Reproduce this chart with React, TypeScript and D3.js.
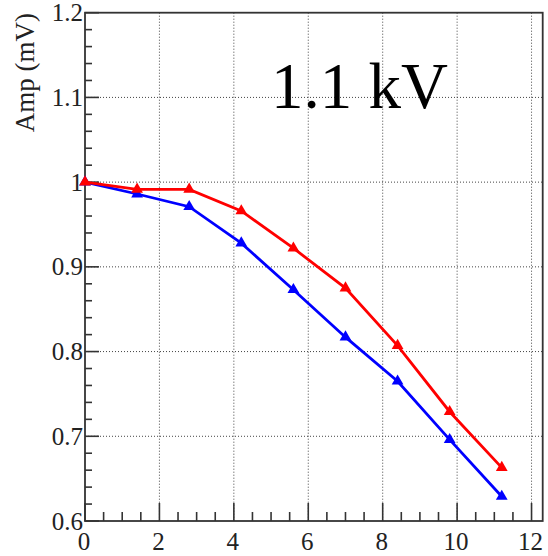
import React, { useEffect, useRef } from 'react'
import * as d3 from 'd3'

const distance = [0, 1.4, 2.8, 4.2, 5.6, 7.0, 8.4, 9.8, 11.2]
const redAmp = [1.0, 0.9915, 0.9915, 0.966, 0.922, 0.875, 0.807, 0.729, 0.663]
const blueAmp = [1.0, 0.986, 0.971, 0.928, 0.873, 0.817, 0.765, 0.696, 0.629]
const xTicks = [0, 2, 4, 6, 8, 10, 12]
const yTicks = [0.6, 0.7, 0.8, 0.9, 1, 1.1, 1.2]
const titleText = '1.1 kV'
const yTitle = 'Amp (mV)'

const W = 548
const H = 556
const FONT = 'Liberation Serif'

export default function App() {
  const ref = useRef<SVGSVGElement>(null)

  useEffect(() => {
    const svg = d3.select(ref.current)
    svg.selectAll('*').remove()

    const left = 85, right = 542.7, top = 12.7, bottom = 521
    const x = d3.scaleLinear().domain([0, 12.3]).range([left, right])
    const y = d3.scaleLinear().domain([0.6, 1.2]).range([bottom, top])

    svg.append('rect').attr('width', W).attr('height', H).attr('fill', '#fff')

    // grid
    const grid = svg.append('g')
      .attr('stroke', '#444').attr('stroke-width', 1).attr('stroke-dasharray', '1,2')
    xTicks.filter(t => t > 0).forEach(t => {
      grid.append('line').attr('x1', x(t)).attr('x2', x(t)).attr('y1', top).attr('y2', bottom)
    })
    yTicks.filter(t => t > 0.6 && t < 1.2).forEach(t => {
      grid.append('line').attr('x1', left).attr('x2', right).attr('y1', y(t)).attr('y2', y(t))
    })

    // ticks
    const ax = svg.append('g').attr('stroke', '#333').attr('stroke-width', 1.6)
    d3.range(0, 12.01, 0.5).forEach(t => {
      const major = Math.abs(t - Math.round(t / 2) * 2) < 1e-6
      ax.append('line').attr('x1', x(t)).attr('x2', x(t))
        .attr('y1', bottom).attr('y2', bottom - (major ? 18 : 9))
    })
    d3.range(0.6, 1.2001, 0.02).forEach(t => {
      const major = Math.abs(t * 10 - Math.round(t * 10)) < 1e-6
      ax.append('line').attr('x1', left).attr('x2', left + (major ? 14 : 7))
        .attr('y1', y(t)).attr('y2', y(t))
    })

    // frame
    svg.append('rect')
      .attr('x', left).attr('y', top).attr('width', right - left).attr('height', bottom - top)
      .attr('fill', 'none').attr('stroke', '#333').attr('stroke-width', 1.8)

    // tick labels
    svg.append('g').selectAll('text').data(xTicks).enter().append('text')
      .attr('x', d => x(d) - 1).attr('y', 550)
      .attr('text-anchor', 'middle')
      .style('font-family', FONT).style('font-size', '25px').attr('fill', '#222')
      .text(d => d)
    svg.append('g').selectAll('text').data(yTicks).enter().append('text')
      .attr('x', 83).attr('y', d => y(d) + 8.5)
      .attr('text-anchor', 'end')
      .style('font-family', FONT).style('font-size', '25px').attr('fill', '#222')
      .text(d => d3.format('~g')(d))

    // axis title
    svg.append('text')
      .attr('transform', 'translate(33.5,13) rotate(-90)')
      .attr('text-anchor', 'end')
      .style('font-family', FONT).style('font-size', '27px').attr('fill', '#222')
      .text(yTitle)

    // big label
    svg.append('text')
      .attr('x', 271).attr('y', 108)
      .style('font-family', FONT).style('font-size', '65px').attr('fill', '#000')
      .text(titleText)

    const series = [
      { color: '#0000ff', values: blueAmp },
      { color: '#ff0000', values: redAmp },
    ]
    const line = d3.line<number>().x((d, i) => x(distance[i])).y(d => y(d))
    const tri = d3.symbol().type(d3.symbolTriangle).size(60)

    series.forEach(s => {
      svg.append('path')
        .attr('d', line(s.values))
        .attr('fill', 'none').attr('stroke', s.color).attr('stroke-width', 2.8)
      svg.append('g').selectAll('path').data(s.values).enter().append('path')
        .attr('d', tri)
        .attr('transform', (d, i) => `translate(${x(distance[i])},${y(d)})`)
        .attr('fill', s.color)
    })
  }, [])

  return (
    <svg ref={ref} width={W} height={H}
      style={{ position: 'absolute', left: 0, top: 0, display: 'block' }} />
  )
}
